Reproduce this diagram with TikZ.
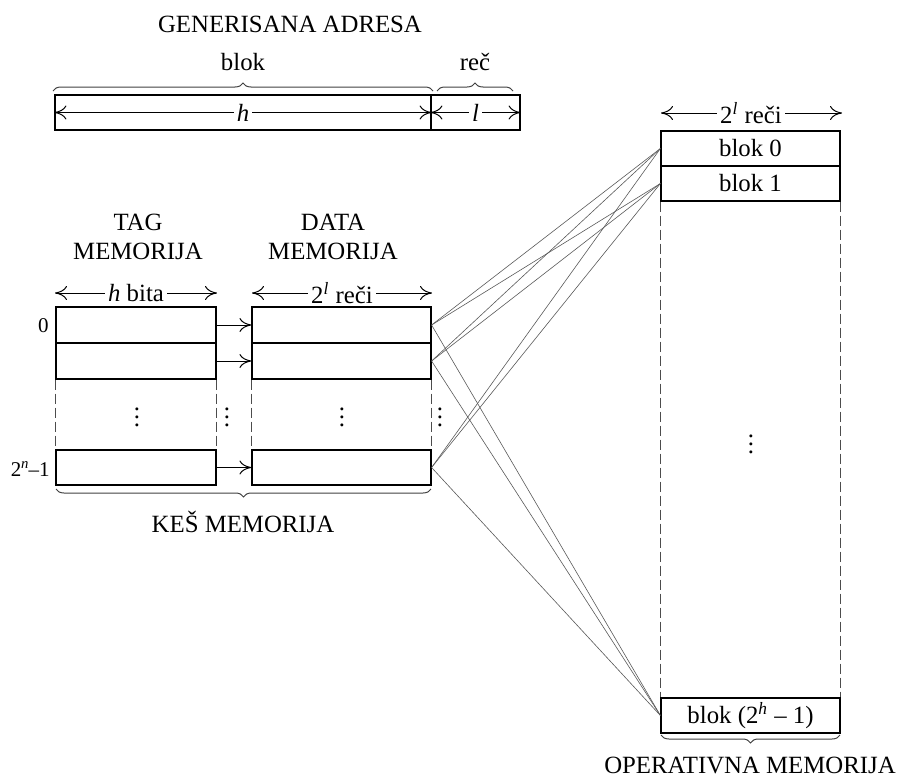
\documentclass[tikz,border=0pt]{standalone}
\usepackage{fontspec}
\setmainfont{Liberation Serif}
\usetikzlibrary{arrows.meta,decorations.pathreplacing}

\tikzset{
  cell/.style={draw, line width=0.6pt, inner sep=0pt, minimum height=18pt},
  tagcell/.style={cell, minimum width=80pt},
  datacell/.style={cell, minimum width=89.5pt},
  memcell/.style={cell, minimum width=89.5pt, minimum height=17.5pt},
  lbl/.style={font=\fontsize{12.4}{14.6}\selectfont, inner sep=1pt},
  idx/.style={font=\fontsize{10.5}{12}\selectfont, inner sep=0pt},
  ell/.style={font=\fontsize{12.4}{14.6}\selectfont, inner sep=0pt},
  tipR/.tip={Computer Modern Rightarrow[length=6pt,width=7pt]},
  dimline/.style={line width=0.5pt, tipR-tipR},
  dimlabel/.style={lbl, fill=white, inner xsep=1.5pt},
  feed/.style={line width=0.5pt, -tipR},
  gap/.style={draw=black!70, line width=0.6pt, dash pattern=on 5pt off 2pt},
  brc/.style={draw=black!75, line width=0.5pt, decorate, decoration={brace, amplitude=4pt}},
  wire/.style={draw=black!65, line width=0.3pt},
}

\begin{document}
\begin{tikzpicture}[x=0.5pt, y=-0.5pt]
\useasboundingbox (0,0) rectangle (901,777);

% ---- generated address ----
\node[lbl] (title) at (290,24) {GENERISANA ADRESA};
\node[lbl] (tblok) at (243,62) {blok};
\node[lbl] (trec) at (475,62) {reč};
\node[cell, minimum width=188pt, minimum height=17.5pt] (ah) at (243,112.5) {};
\node[cell, minimum width=44.5pt, minimum height=17.5pt] (al) at (475.5,112.5) {};
\draw[dimline] (ah.west) -- (ah.east);
\draw[dimline] (al.west) -- (al.east);
\node[dimlabel] (hlab) at (ah.center) {\itshape h};
\node[dimlabel] (llab) at (al.center) {\itshape l};
\draw[brc] (53,91) -- (433,91);
\draw[brc] (437,91) -- (513,91);

% ---- cache: tag and data memory ----
\node[lbl, align=center] (ttag) at (138,237) {TAG\\MEMORIJA};
\node[lbl, align=center] (tdata) at (333,237) {DATA\\MEMORIJA};

\coordinate (tw) at (55,293);
\coordinate (te) at (217,293);
\coordinate (dw) at (252,293);
\coordinate (de) at (432,293);
\draw[dimline] (tw) -- (te);
\draw[dimline] (dw) -- (de);
\node[dimlabel] (hbita) at (136,293) {\itshape h\upshape\ bita};
\node[dimlabel] (dwid) at (342,293) {2\textsuperscript{\itshape l} reči};

\node[tagcell] (t0) at (136,325) {};
\node[tagcell] (t1) at (136,361) {};
\node[tagcell, minimum height=17.5pt] (tn) at (136,467.5) {};
\node[datacell] (d0) at (341.5,325) {};
\node[datacell] (d1) at (341.5,361) {};
\node[datacell, minimum height=17.5pt] (dn) at (341.5,467.5) {};

\draw[gap] (t1.south west) -- (tn.north west);
\draw[gap] (t1.south east) -- (tn.north east);
\draw[gap] (d1.south west) -- (dn.north west);
\draw[gap] (d1.south east) -- (dn.north east);

\draw[feed] (t0.east) -- (d0.west);
\draw[feed] (t1.east) -- (d1.west);
\draw[feed] (tn.east) -- (dn.west);

\node[idx, anchor=east] (i0) at (49,326) {0};
\node[idx, anchor=east] (in) at (50,469) {2\textsuperscript{\itshape n}\kern-0.5pt–1};

\node[ell] (v1) at (137,411) {$\vdots$};
\node[ell] (v2) at (227,411) {$\vdots$};
\node[ell] (v3) at (342,411) {$\vdots$};
\node[ell] (v4) at (440,411) {$\vdots$};

\draw[brc] (431,489) -- (56,489);
\node[lbl] (tkes) at (243,522) {KEŠ MEMORIJA};

% ---- main memory ----
\coordinate (mw) at (661,113);
\coordinate (me) at (842,113);
\draw[dimline] (mw) -- (me);
\node[dimlabel] (mwid) at (751,113) {2\textsuperscript{\itshape l} reči};

\node[memcell, lbl] (b0) at (750.5,148.5) {blok 0};
\node[memcell, lbl] (b1) at (750.5,183.5) {blok 1};
\node[memcell, lbl] (bn) at (750.5,715.5) {blok (2\textsuperscript{\itshape h} – 1)};
\draw[gap] (b1.south west) -- (bn.north west);
\draw[gap] (b1.south east) -- (bn.north east);
\node[ell] (v5) at (751,438) {$\vdots$};

\draw[brc] (840,735) -- (661,735);
\node[lbl] (tmem) at (750,765) {OPERATIVNA MEMORIJA};

% ---- mapping of cache lines to memory blocks ----
\foreach \c in {d0,d1,dn}{
  \foreach \b in {b0,b1,bn}{
    \draw[wire] (\c.east) -- (\b.west);
  }
}
\end{tikzpicture}
\end{document}
